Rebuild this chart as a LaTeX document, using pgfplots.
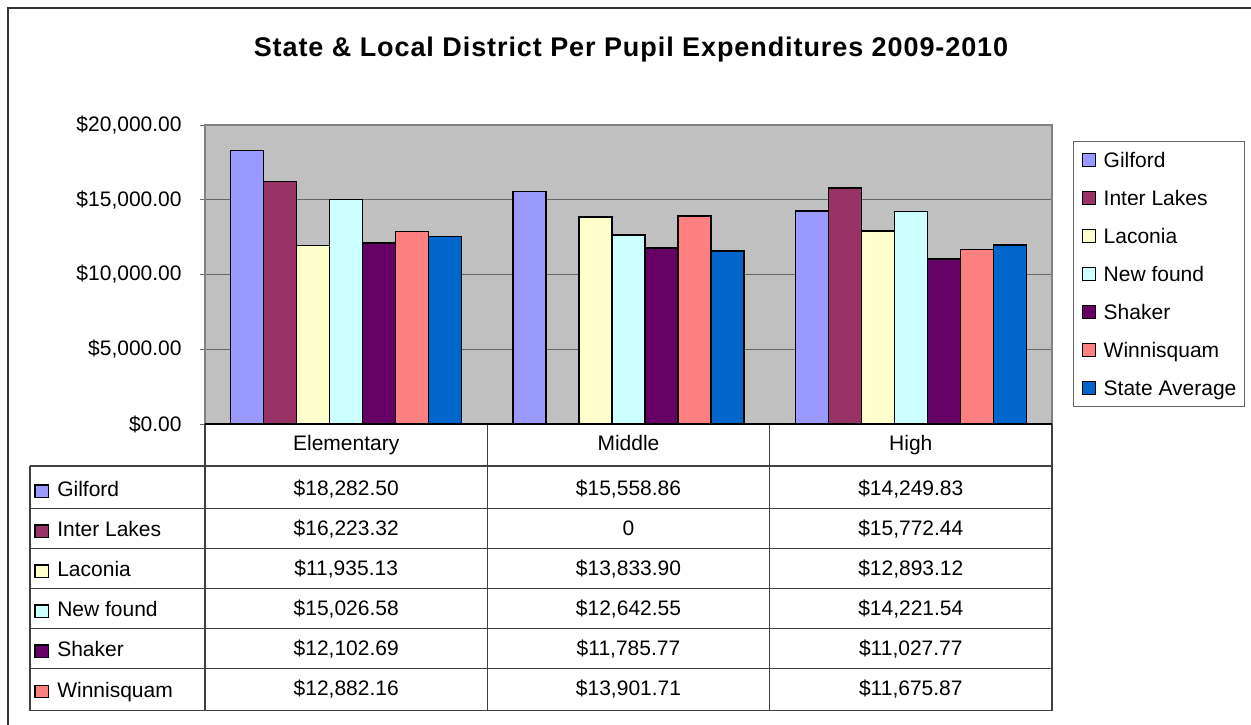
\documentclass[border=0pt]{standalone}
\usepackage{fontspec}
\setmainfont{Liberation Sans}
\usepackage{pgfplots}
\pgfplotsset{compat=1.18}
\definecolor{cGil}{HTML}{9999FF}
\definecolor{cInt}{HTML}{993366}
\definecolor{cLac}{HTML}{FFFFCC}
\definecolor{cNew}{HTML}{CCFFFF}
\definecolor{cSha}{HTML}{660066}
\definecolor{cWin}{HTML}{FF8080}
\definecolor{cSta}{HTML}{0066CC}
\definecolor{plotbg}{HTML}{C0C0C0}
\newcommand\bodyfont{\fontsize{10.5}{12.6}\selectfont}
\begin{document}
\begin{tikzpicture}
\useasboundingbox (0,0) rectangle (625.5pt,-362pt);
% outer frame
\draw[black!80, line width=0.6pt] (4pt,-400pt) -- (4pt,-4pt) -- (640pt,-4pt);
\node[anchor=base, font=\fontsize{13.5}{16}\selectfont\bfseries\addfontfeatures{LetterSpace=3.4}] at (315.5pt,-28.4pt) {State \& Local District Per Pupil Expenditures 2009-2010};
\begin{axis}[
  at={(102.5pt,-212pt)}, anchor=south west,
  width=423.5pt, height=149.5pt, scale only axis,
  ybar=0pt, bar width=16.5pt,
  xmin=-0.5, xmax=2.5, ymin=0, ymax=20000,
  xtick=\empty,
  scaled y ticks=false,
  ytick={0,5000,10000,15000,20000},
  yticklabels={{\$0.00},{\$5,000.00},{\$10,000.00},{\$15,000.00},{\$20,000.00}},
  ytick pos=left, tick align=outside, major tick length=2.5pt,
  yticklabel style={font=\bodyfont, inner sep=0pt, xshift=-9pt},
  tick style={draw=black!60, line width=0.5pt},
  ymajorgrids, major grid style={draw=black!60, line width=0.5pt},
  axis background/.style={fill=plotbg},
  axis line style={draw=black!50, line width=0.6pt},
  every axis plot/.append style={draw=black, line width=0.8pt,
    legend image code/.code={\draw[##1, line width=0.6pt] (0pt,-3.25pt) rectangle (6.5pt,3.25pt);}},
  legend style={at={(1.0248,0.9465)}, anchor=north west, draw=black!60, line width=0.5pt,
    font=\bodyfont, inner xsep=4pt, inner ysep=5.5pt, row sep=11.5pt,
    nodes={inner sep=0pt, text height=7.5pt, text depth=0pt},
    /tikz/every odd column/.append style={column sep=4pt}},
  legend cell align=left,
  clip=false,
]
\addplot[fill=cGil] coordinates {(0,18282.50) (1,15558.86) (2,14249.83)};
\addplot[fill=cInt] coordinates {(0,16223.32) (1,0) (2,15772.44)};
\addplot[fill=cLac] coordinates {(0,11935.13) (1,13833.90) (2,12893.12)};
\addplot[fill=cNew] coordinates {(0,15026.58) (1,12642.55) (2,14221.54)};
\addplot[fill=cSha] coordinates {(0,12102.69) (1,11785.77) (2,11027.77)};
\addplot[fill=cWin] coordinates {(0,12882.16) (1,13901.71) (2,11675.87)};
\addplot[fill=cSta] coordinates {(0,12530) (1,11590) (2,11970)};
\legend{Gilford,Inter Lakes,Laconia,New found,Shaker,Winnisquam,State Average}
\end{axis}
% data table
\begin{scope}[x=0.5pt,y=-0.5pt, line width=0.6pt]
\draw[black!75] (30,466) -- (1052,466);
\foreach \yy in {508.7,548.7,588.7,628.7,668.7,710.7} \draw[black!75] (30,\yy) -- (1052,\yy);
\draw[black!75] (30,466) -- (30,710.7);
\foreach \xx in {205,487.3,769.7,1052} \draw[black!75] (\xx,424) -- (\xx,710.7);
\draw[black, line width=0.7pt] (205,424) -- (1052,424);
\node[font=\bodyfont, anchor=base, inner sep=0pt] at (346.2,450.7) {Elementary};
\node[font=\bodyfont, anchor=base, inner sep=0pt] at (628.5,450.7) {Middle};
\node[font=\bodyfont, anchor=base, inner sep=0pt] at (910.8,450.7) {High};
\def\rowtab{
 {495/cGil/Gilford/\$18,282.50/\$15,558.86/\$14,249.83},
 {535/cInt/Inter Lakes/\$16,223.32/0/\$15,772.44},
 {575/cLac/Laconia/\$11,935.13/\$13,833.90/\$12,893.12},
 {615/cNew/New found/\$15,026.58/\$12,642.55/\$14,221.54},
 {655/cSha/Shaker/\$12,102.69/\$11,785.77/\$11,027.77},
 {695.5/cWin/Winnisquam/\$12,882.16/\$13,901.71/\$11,675.87}}
\foreach \cy/\cc/\nm/\va/\vb/\vc in \rowtab {
  \draw[fill=\cc, draw=black, line width=0.6pt] (35,\cy-10) rectangle (48.3,\cy+2.3);
  \node[font=\bodyfont, anchor=base west, inner sep=0pt] at (56.7,\cy+1.5) {\nm};
  \node[font=\bodyfont, anchor=base, inner sep=0pt] at (346.2,\cy) {\va};
  \node[font=\bodyfont, anchor=base, inner sep=0pt] at (628.5,\cy) {\vb};
  \node[font=\bodyfont, anchor=base, inner sep=0pt] at (910.8,\cy) {\vc};
}
\end{scope}
\end{tikzpicture}
\end{document}
